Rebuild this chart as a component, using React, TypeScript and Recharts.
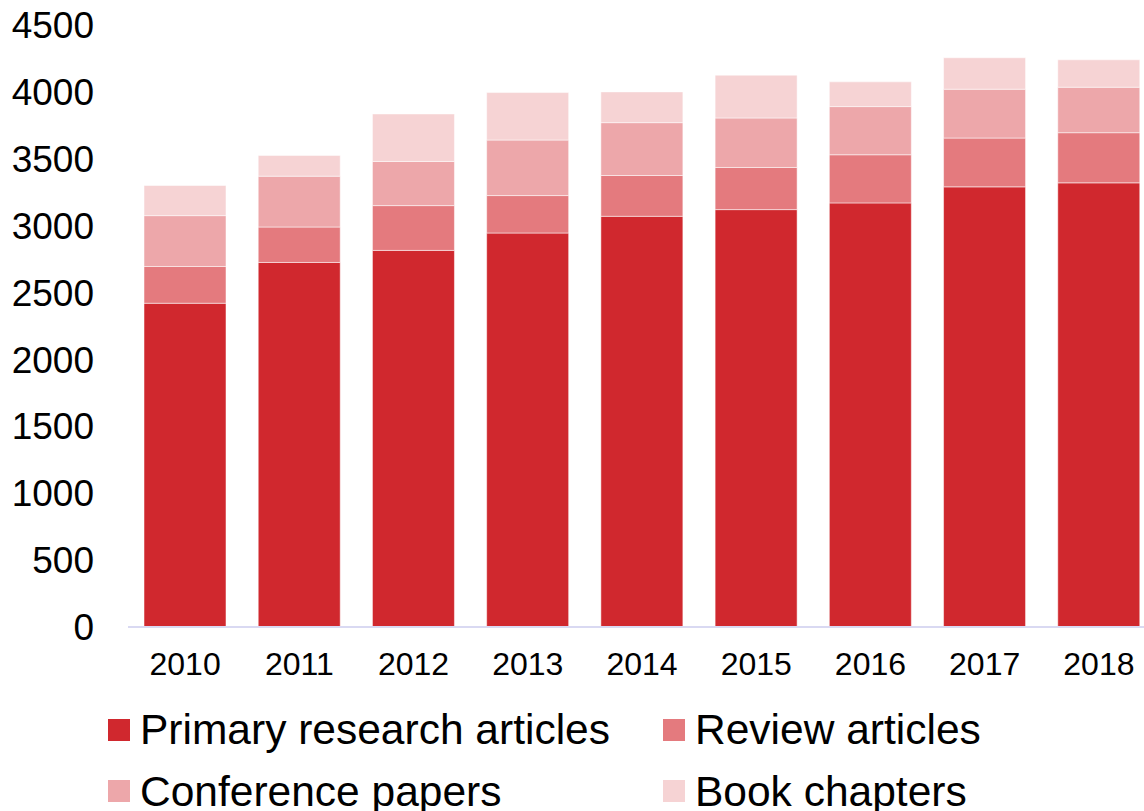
import { BarChart, Bar, XAxis, YAxis } from "recharts";

const years = ["2010", "2011", "2012", "2013", "2014", "2015", "2016", "2017", "2018"];
const primary = [2420, 2725, 2815, 2945, 3070, 3120, 3170, 3290, 3320];
const review = [275, 265, 335, 280, 305, 315, 360, 365, 375];
const conference = [380, 380, 330, 415, 395, 370, 360, 365, 340];
const books = [225, 155, 355, 355, 230, 320, 185, 235, 205];
const yTicks = [0, 500, 1000, 1500, 2000, 2500, 3000, 3500, 4000, 4500];

const series = [
  { key: "primary", name: "Primary research articles", color: "#D0282E" },
  { key: "review", name: "Review articles", color: "#E47A7E" },
  { key: "conference", name: "Conference papers", color: "#EDA7AA" },
  { key: "books", name: "Book chapters", color: "#F6D3D4" },
];

const data = years.map((year, i) => ({
  year,
  primary: primary[i],
  review: review[i],
  conference: conference[i],
  books: books[i],
}));

const font = "'Liberation Sans', Arial, sans-serif";

export default function App() {
  return (
    <div
      style={{
        position: "absolute",
        left: 0,
        top: 0,
        width: 1144,
        height: 811,
        overflow: "hidden",
        background: "#fff",
        fontFamily: font,
      }}
    >
      <BarChart
        width={1160}
        height={690}
        data={data}
        margin={{ top: 25, right: 4, bottom: 0, left: 0 }}
        barSize={82}
      >
        <XAxis
          dataKey="year"
          tickLine={false}
          tickSize={0}
          tickMargin={25}
          height={63}
          axisLine={{ stroke: "#D9D9F2", strokeWidth: 2 }}
          tick={{ fill: "#000", fontSize: 32, fontFamily: font }}
        />
        <YAxis
          width={128}
          domain={[0, 4500]}
          ticks={yTicks}
          axisLine={false}
          tickLine={false}
          tickSize={0}
          tickMargin={34}
          tick={{ fill: "#000", fontSize: 37, fontFamily: font }}
        />
        {series.map((s) => (
          <Bar
            key={s.key}
            dataKey={s.key}
            name={s.name}
            stackId="a"
            fill={s.color}
            stroke="rgba(255,255,255,0.5)"
            strokeWidth={1}
            isAnimationActive={false}
          />
        ))}
      </BarChart>
      <div
        style={{
          position: "absolute",
          left: 108,
          top: 699,
          display: "grid",
          gridTemplateColumns: "555px 480px",
          gridAutoRows: "61.5px",
        }}
      >
        {series.map((s) => (
          <div key={s.key} style={{ display: "flex", alignItems: "center" }}>
            <span
              style={{
                display: "inline-block",
                width: 22,
                height: 22,
                background: s.color,
                marginRight: 10,
              }}
            />
            <span style={{ fontSize: 42.5, lineHeight: "61.5px", color: "#000", whiteSpace: "nowrap" }}>
              {s.name}
            </span>
          </div>
        ))}
      </div>
    </div>
  );
}
